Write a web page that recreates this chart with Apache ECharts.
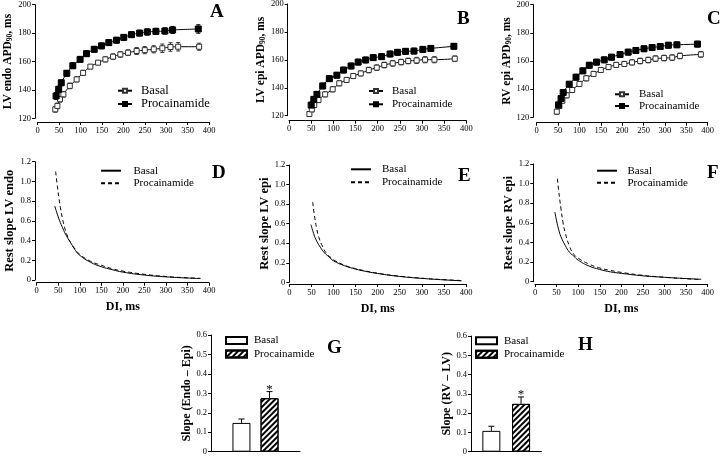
<!DOCTYPE html>
<html><head><meta charset="utf-8">
<script src="https://cdn.jsdelivr.net/npm/echarts@6/dist/echarts.min.js"></script>
<style>html,body{margin:0;padding:0;background:#fff}#c{width:720px;height:456px}</style>
</head><body><div id="c"></div>
<script>
// ---------- DATA ----------
// Panel A: LV endo APD90 (ms) vs DI (ms)
const aBasalDI  = [41,46,52,60,75,91,106,123,141,158,176,193,211,231,250,271,291,310,328,377];
const aBasalAPD = [126.3,128.7,133.4,136.9,142.8,147.4,152,156.4,159.2,161.5,163.4,165,166.2,167.4,168,168.6,169.3,170.2,170.4,170.4];
const aBasalErr = [2,2,2,2,2,1.8,1.8,1.5,1.5,1.8,2,2,2,2.5,2.5,2.5,3,3,3,2.5];
const aProcDI   = [43,49,55,68,82,99,114,132,149,166,184,201,219,238,256,276,297,315,375];
const aProcAPD  = [135.7,140.4,145,151.7,157,161.5,165.5,168.6,171,173.3,175,177,178.9,180,180.8,181.2,181.5,182.2,182.9];
const aProcErr  = [2.5,2.2,2,2,2,2,2,2,2,2,2,2,2,2,2.2,2.2,2.2,2.5,3];
// Panel B: LV epi APD90
const bBasalDI  = [46,51.5,57,66.5,81.6,98.5,113.5,130,145,162,180,198,215,234,253,269,288,307,328,374];
const bBasalAPD = [121.2,124.5,127.6,131.2,135.3,138.9,143.2,145.6,148.4,150.3,152.7,154.4,156.3,157.5,158.4,159.2,159.6,160.1,160.1,160.8];
const bBasalErr = [1.8,1.8,1.8,1.8,1.8,1.8,1.8,1.8,1.8,1.8,2,2,2,2,2,2,2.2,2.2,2.2,2];
const bProcDI   = [50,56,63,76,91,108,123,140,156,173,190,209,228,245,263,282,302,320,372];
const bProcAPD  = [127.6,131.7,135.3,141.3,146.5,149,152.7,155.6,158.4,159.9,161.6,162.3,164.2,165.4,166.1,166.3,167.5,168.2,169.7];
const bProcErr  = [2,2,2,2,2,2,2,2,2,2,2,2,2,2,2,2,2,2,2];
// Panel C: RV epi APD90
const cBasalDI  = [47,53,60,70,83,100,116,133,150,168,186,205,223,242,261,278,298,317,335,384];
const cBasalAPD = [124,128,131.8,135.6,139.4,143.7,147.7,150.8,153.6,155.7,157.2,157.9,159,160,160.7,161.7,162.1,162.4,163.6,164.7];
const cBasalErr = [1.8,1.8,1.8,1.8,1.8,1.8,1.8,1.8,1.8,1.8,1.8,1.8,1.8,2,2,2,2,2,2,2];
const cProcDI   = [51,57,62,76,92,108,123,140,158,175,195,214,232,251,270,289,308,328,376];
const cProcAPD  = [128.8,133.3,137.6,143.5,148.5,153,157,159.2,160.8,162.7,164.6,166.3,167.5,168.7,169.6,170.3,171.2,171.5,172];
const cProcErr  = [2,2,2,2,2,2,2,2,2,2,2,2,2,2,2,2,2,2,2];
// Panel D: rest slope LV endo
const dBasalDI    = [42,50,60,70,80,90,100,125,150,175,200,250,300,350,380];
const dBasalSlope = [0.75,0.64,0.53,0.44,0.37,0.3,0.25,0.18,0.135,0.105,0.08,0.05,0.032,0.02,0.015];
const dProcDI     = [44,48,52,56,60,65,70,80,90,100,125,150,175,200,250,300,350,380];
const dProcSlope  = [1.1,0.95,0.82,0.71,0.62,0.53,0.46,0.37,0.31,0.26,0.19,0.15,0.115,0.09,0.058,0.036,0.022,0.017];
// Panel E: rest slope LV epi
const eBasalDI    = [49,55,60,70,80,90,100,125,150,175,200,250,300,350,390];
const eBasalSlope = [0.59,0.5,0.44,0.36,0.3,0.26,0.22,0.17,0.135,0.11,0.09,0.06,0.04,0.025,0.015];
const eProcDI     = [53,57,62,67,75,85,95,100,125,150,200,250,300,350,390];
const eProcSlope  = [0.82,0.68,0.55,0.46,0.37,0.29,0.25,0.23,0.175,0.14,0.093,0.062,0.042,0.027,0.018];
// Panel F: rest slope RV epi
const fBasalDI    = [46,50,55,60,70,80,90,100,125,150,175,200,250,300,350,385];
const fBasalSlope = [0.71,0.62,0.53,0.46,0.37,0.3,0.26,0.22,0.16,0.125,0.1,0.085,0.06,0.045,0.032,0.025];
const fProcDI     = [52,55,60,65,70,80,90,100,125,150,175,200,250,300,350,380];
const fProcSlope  = [1.05,0.92,0.75,0.6,0.5,0.36,0.28,0.24,0.18,0.14,0.115,0.095,0.065,0.045,0.03,0.022];
// Panel G / H: bars
const gBars = [0.148, 0.275];
const gErr  = [0.02, 0.034];
const hBars = [0.108, 0.248];
const hErr  = [0.024, 0.036];
const groupNames = ['Basal', 'Procainamide'];
const diTicks = {min:0, max:400, interval:50};

// ---------- CHART ----------
const F = '"Liberation Serif", "Times New Roman", serif';
const chart = echarts.init(document.getElementById('c'), null, {renderer:'canvas'});

const grids = [
  {left:37.7, top:4.7, width:171.3, height:113.6},
  {left:289, top:4, width:177.3, height:111.7},
  {left:536.7, top:4.7, width:171, height:112.6},
  {left:36.7, top:161.7, width:172.3, height:118.3},
  {left:289.3, top:165, width:176.7, height:117.3},
  {left:535, top:164, width:172.7, height:117.7},
  {left:211, top:335, width:89, height:116.7},
  {left:471, top:336, width:70.4, height:115.7}
].map(g => Object.assign({outerBoundsMode:'none', containLabel:false}, g));

function baseAxis(gi, extra) {
  return Object.assign({
    gridIndex: gi,
    axisLine: {show:true, onZero:false, lineStyle:{color:'#000', width:1}},
    axisTick: {show:true, length:3, inside:false, lineStyle:{color:'#000', width:1}},
    axisLabel: {fontFamily:F, fontSize:8.5, color:'#000', margin:4},
    splitLine: {show:false}
  }, extra);
}
const fmt1 = v => v === 0 ? '0' : v.toFixed(1);
const lab1 = {fontFamily:F, fontSize:8.5, color:'#000', margin:4, formatter:fmt1};
const titleStyle = (size) => ({fontFamily:F, fontWeight:'bold', fontSize:size, color:'#000'});
const apdName = (pre) => '{b|' + pre + ' APD}{s|90}{b|, ms}';
const apdNameStyle = {fontFamily:F, rich:{b:Object.assign({verticalAlign:'bottom'}, titleStyle(11.5)), s:Object.assign({verticalAlign:'bottom'}, titleStyle(7.5))}};

const xAxes = [
  baseAxis(0, {type:'value', ...diTicks, offset:3.7}),
  baseAxis(1, {type:'value', ...diTicks, offset:5}),
  baseAxis(2, {type:'value', ...diTicks, offset:5.4}),
  baseAxis(3, {type:'value', ...diTicks, offset:2.7, name:'DI, ms', nameLocation:'middle', nameGap:18, nameTextStyle:titleStyle(12)}),
  baseAxis(4, {type:'value', ...diTicks, offset:1.7, name:'DI, ms', nameLocation:'middle', nameGap:19, nameTextStyle:titleStyle(12)}),
  baseAxis(5, {type:'value', ...diTicks, offset:2.3, name:'DI, ms', nameLocation:'middle', nameGap:19, nameTextStyle:titleStyle(12)}),
  baseAxis(6, {type:'category', data:[''], axisTick:{show:false}, axisLabel:{show:false}}),
  baseAxis(7, {type:'category', data:[''], axisTick:{show:false}, axisLabel:{show:false}})
];
const yAxes = [
  baseAxis(0, {type:'value', min:120, max:200, interval:20, offset:2.7, name:apdName('LV endo'), nameLocation:'middle', nameRotate:90, nameGap:18, nameTextStyle:apdNameStyle}),
  baseAxis(1, {type:'value', min:120, max:200, interval:20, offset:1.3, name:apdName('LV epi'), nameLocation:'middle', nameRotate:90, nameGap:18, nameTextStyle:apdNameStyle}),
  baseAxis(2, {type:'value', min:120, max:200, interval:20, offset:3.4, name:apdName('RV epi'), nameLocation:'middle', nameRotate:90, nameGap:18, nameTextStyle:apdNameStyle}),
  baseAxis(3, {type:'value', min:0, max:1.2, interval:0.2, offset:1.7, axisLabel:lab1, name:'Rest slope LV endo', nameLocation:'middle', nameRotate:90, nameGap:17, nameTextStyle:titleStyle(12.5)}),
  baseAxis(4, {type:'value', min:0, max:1.2, interval:0.2, offset:0, axisLabel:lab1, name:'Rest slope LV epi', nameLocation:'middle', nameRotate:90, nameGap:17, nameTextStyle:titleStyle(12.5)}),
  baseAxis(5, {type:'value', min:0, max:1.2, interval:0.2, offset:1.7, axisLabel:lab1, name:'Rest slope RV epi', nameLocation:'middle', nameRotate:90, nameGap:17, nameTextStyle:titleStyle(12.5)}),
  baseAxis(6, {type:'value', min:0, max:0.6, interval:0.1, axisLabel:lab1, name:'Slope (Endo – Epi)', nameLocation:'middle', nameRotate:90, nameGap:17, nameTextStyle:titleStyle(12)}),
  baseAxis(7, {type:'value', min:0, max:0.6, interval:0.1, axisLabel:lab1, name:'Slope (RV – LV)', nameLocation:'middle', nameRotate:90, nameGap:17, nameTextStyle:titleStyle(12)})
];

const zip = (xs, ys) => xs.map((x, i) => [x, ys[i]]);

function apdLine(name, gi, xs, ys, filled) {
  return {type:'line', name, xAxisIndex:gi, yAxisIndex:gi, data:zip(xs, ys), smooth:0.4,
    symbol:'rect', symbolSize: filled ? 6 : 5, showSymbol:true, z: filled ? 4 : 3,
    lineStyle:{color:'#000', width:1},
    itemStyle:{color: filled ? '#000' : '#fff', borderColor: filled ? '#000' : '#333', borderWidth:1}};
}
function errSeries(gi, xs, ys, es, color) {
  return {type:'custom', xAxisIndex:gi, yAxisIndex:gi, silent:true, z:2, clip:false,
    data: xs.map((x, i) => [x, ys[i], es[i]]), encode:{x:0, y:1},
    renderItem(params, api) {
      const x = api.value(0), y = api.value(1), e = api.value(2);
      const p1 = api.coord([x, y + e]), p2 = api.coord([x, y - e]), w = 2;
      const st = {stroke:color, lineWidth:1};
      return {type:'group', children:[
        {type:'line', shape:{x1:p1[0], y1:p1[1], x2:p2[0], y2:p2[1]}, style:st},
        {type:'line', shape:{x1:p1[0]-w, y1:p1[1], x2:p1[0]+w, y2:p1[1]}, style:st},
        {type:'line', shape:{x1:p2[0]-w, y1:p2[1], x2:p2[0]+w, y2:p2[1]}, style:st}
      ]};
    }};
}
function slopeLine(name, gi, xs, ys, dashed) {
  return {type:'line', name, xAxisIndex:gi, yAxisIndex:gi, data:zip(xs, ys), smooth:0.5,
    symbol:'none', showSymbol:false,
    lineStyle:{color:'#000', width:1, type: dashed ? [4, 3] : 'solid'},
    itemStyle:{color:'#000'}};
}
const hatch = {symbol:'rect', symbolSize:1, color:'#000', dashArrayX:[1, 0], dashArrayY:[1.6, 2], rotation:-Math.PI/4};
function barSeries(name, gi, val, proc, gapPct) {
  return {type:'bar', name, xAxisIndex:gi, yAxisIndex:gi, data:[val], barWidth:18, barGap:gapPct,
    itemStyle: proc ? {color:'#fff', borderColor:'#000', borderWidth:1, decal:hatch}
                    : {color:'#fff', borderColor:'#000', borderWidth:1}};
}
function barErr(gi, vals, errs, half, starIdx) {
  return {type:'custom', xAxisIndex:gi, yAxisIndex:gi, silent:true, z:5, clip:false,
    data: vals.map((v, i) => [0, v, errs[i]]), encode:{x:0, y:1},
    renderItem(params, api) {
      const i = params.dataIndex;
      const v = api.value(1), e = api.value(2);
      const base = api.coord([0, v]), top = api.coord([0, v + e]);
      const cx = base[0] + (i === 0 ? -half : half);
      const st = {stroke:'#000', lineWidth:1};
      const ch = [
        {type:'line', shape:{x1:cx, y1:base[1], x2:cx, y2:top[1]}, style:st},
        {type:'line', shape:{x1:cx-3, y1:top[1], x2:cx+3, y2:top[1]}, style:st}
      ];
      if (i === starIdx) ch.push({type:'text', style:{text:'*', x:cx, y:top[1]-2, align:'center', verticalAlign:'middle', font:'13px ' + F, fill:'#000'}});
      return {type:'group', children:ch};
    }};
}

const series = [
  errSeries(0, aBasalDI, aBasalAPD, aBasalErr, '#333'),
  errSeries(0, aProcDI, aProcAPD, aProcErr, '#000'),
  apdLine('Basal|A', 0, aBasalDI, aBasalAPD, false),
  apdLine('Procainamide|A', 0, aProcDI, aProcAPD, true),
  errSeries(1, bBasalDI, bBasalAPD, bBasalErr, '#333'),
  errSeries(1, bProcDI, bProcAPD, bProcErr, '#000'),
  apdLine('Basal|B', 1, bBasalDI, bBasalAPD, false),
  apdLine('Procainamide|B', 1, bProcDI, bProcAPD, true),
  errSeries(2, cBasalDI, cBasalAPD, cBasalErr, '#333'),
  errSeries(2, cProcDI, cProcAPD, cProcErr, '#000'),
  apdLine('Basal|C', 2, cBasalDI, cBasalAPD, false),
  apdLine('Procainamide|C', 2, cProcDI, cProcAPD, true),
  slopeLine('Basal|D', 3, dBasalDI, dBasalSlope, false),
  slopeLine('Procainamide|D', 3, dProcDI, dProcSlope, true),
  slopeLine('Basal|E', 4, eBasalDI, eBasalSlope, false),
  slopeLine('Procainamide|E', 4, eProcDI, eProcSlope, true),
  slopeLine('Basal|F', 5, fBasalDI, fBasalSlope, false),
  slopeLine('Procainamide|F', 5, fProcDI, fProcSlope, true),
  barSeries('Basal|G', 6, gBars[0], false, '56%'),
  barSeries('Procainamide|G', 6, gBars[1], true, '56%'),
  barErr(6, gBars, gErr, 14, 1),
  barSeries('Basal|H', 7, hBars[0], false, '65%'),
  barSeries('Procainamide|H', 7, hBars[1], true, '65%'),
  barErr(7, hBars, hErr, 14.85, 1)
];

function legend(panel, left, top, iw, ih, gap, pad, fs, kind) {
  const l = {left, top, orient:'vertical', padding:0, itemWidth:iw, itemHeight:ih, itemGap:gap, selectedMode:false,
    data: groupNames.map(n => n + '|' + panel),
    formatter: n => n.split('|')[0],
    textStyle:{fontFamily:F, fontSize:fs, color:'#000', lineHeight:13, padding:[0,0,0,pad]}};
  if (kind === 'bar') l.icon = 'rect';
  if (kind === 'dash') l.itemStyle = {color:'rgba(0,0,0,0)', borderColor:'rgba(0,0,0,0)', borderWidth:0, opacity:0};
  return l;
}
const legends = [
  legend('A', 117, 84.2, 14, 5, 0.3, 4, 12.5),
  legend('B', 368, 84.5, 14, 5, 0.3, 4, 11),
  legend('C', 614, 87.8, 14, 5, -1.3, 5, 11),
  legend('D', 100, 164.2, 20, 7, -0.4, 7.5, 11, 'dash'),
  legend('E', 350, 162.8, 20, 7, 0, 6, 11, 'dash'),
  legend('F', 596, 164.2, 20, 7, -1, 5.5, 11, 'dash'),
  legend('G', 225, 334, 21, 7, 0.5, 2, 11, 'bar'),
  legend('H', 475, 334.2, 21, 7, 0.6, 2, 11, 'bar')
];

const letters = [['A',210,12.5],['B',457,19.5],['C',707,20],['D',212,174],['E',458,176.5],['F',707,174],['G',327,349],['H',578,346]];
const graphic = letters.map(([t, x, y]) => ({type:'text', left:x, top:y - 10, style:{text:t, font:'bold 19px ' + F, fill:'#000'}}));

chart.setOption({
  animation:false,
  backgroundColor:'#fff',
  textStyle:{fontFamily:F},
  grid:grids, xAxis:xAxes, yAxis:yAxes, series, legend:legends, graphic
});
</script></body></html>
